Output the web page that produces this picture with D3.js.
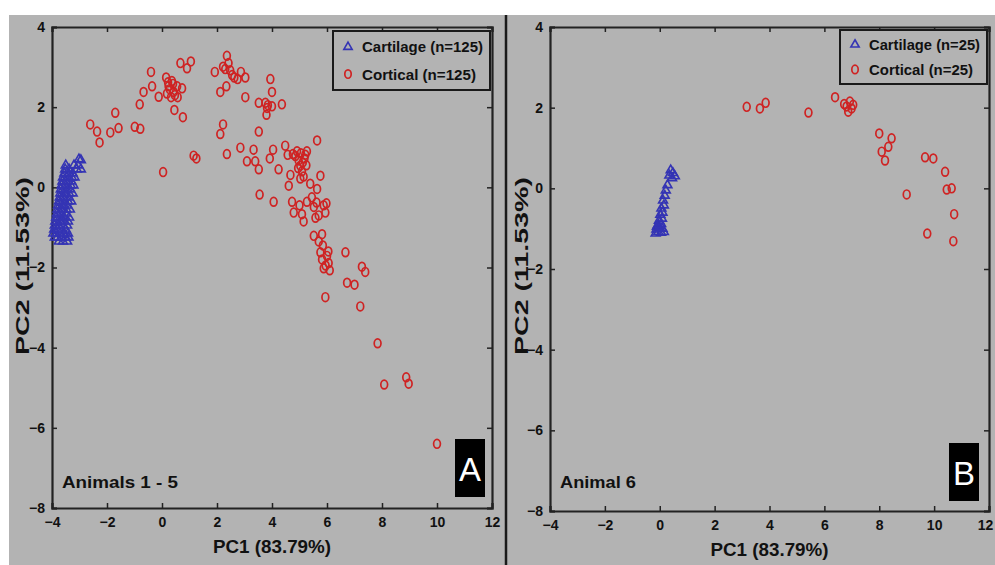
<!DOCTYPE html>
<html><head><meta charset="utf-8">
<script src="https://cdn.jsdelivr.net/npm/d3@7"></script>
<style>
html,body{margin:0;padding:0;background:#fff;}
svg{display:block;}
text{font-family:"Liberation Sans",Arial,sans-serif;}
</style></head>
<body><svg id="chart" width="995" height="565"></svg>
<script>
// ---------------- DATA ----------------
const xTicks = [-4,-2,0,2,4,6,8,10,12];
const yTicks = [4,2,0,-2,-4,-6,-8];
const xTitle = "PC1 (83.79%)";
const yTitle = "PC2 (11.53%)";
const seriesNames = ["Cartilage", "Cortical"];
const panelLabels = ["A", "B"];
const panelCaptions = ["Animals 1 - 5", "Animal 6"];
const legendA = ["Cartilage (n=125)", "Cortical (n=125)"];
const legendB = ["Cartilage (n=25)", "Cortical (n=25)"];

const cartilageA = [
 [-3.75,-1.35],[-3.6,-1.35],[-3.45,-1.35],
 [-3.9,-1.25],[-3.8,-1.25],[-3.65,-1.25],[-3.5,-1.25],[-3.4,-1.25],
 [-3.95,-1.15],[-3.85,-1.15],[-3.7,-1.15],[-3.55,-1.15],[-3.42,-1.15],
 [-3.92,-1.05],[-3.8,-1.05],[-3.68,-1.05],[-3.5,-1.05],
 [-3.9,-0.95],[-3.75,-0.95],[-3.6,-0.95],[-3.45,-0.95],
 [-3.88,-0.85],[-3.72,-0.85],[-3.58,-0.85],[-3.42,-0.85],
 [-3.85,-0.75],[-3.7,-0.75],[-3.55,-0.75],[-3.38,-0.75],
 [-3.82,-0.65],[-3.68,-0.65],[-3.5,-0.65],
 [-3.8,-0.55],[-3.65,-0.55],[-3.48,-0.55],[-3.35,-0.55],
 [-3.78,-0.45],[-3.62,-0.45],[-3.45,-0.45],
 [-3.75,-0.35],[-3.6,-0.35],[-3.42,-0.35],[-3.3,-0.35],
 [-3.72,-0.25],[-3.58,-0.25],[-3.4,-0.25],
 [-3.7,-0.15],[-3.55,-0.15],[-3.38,-0.15],[-3.25,-0.15],
 [-3.68,-0.05],[-3.52,-0.05],[-3.35,-0.05],
 [-3.65,0.05],[-3.5,0.05],[-3.32,0.05],[-3.22,0.05],
 [-3.62,0.15],[-3.48,0.15],[-3.3,0.15],
 [-3.6,0.25],[-3.45,0.25],[-3.28,0.25],[-3.18,0.25],
 [-3.55,0.35],[-3.4,0.35],[-3.25,0.35],
 [-3.52,0.45],[-3.38,0.45],[-3.1,0.45],[-2.95,0.45],
 [-3.5,0.55],[-3.2,0.55],[-3.05,0.55],
 [-3.02,0.7],[-2.95,0.68]
];

const corticalA = [
 [-2.61,1.57],[-2.36,1.39],[-2.27,1.12],[-1.70,1.86],[-1.88,1.37],[-1.58,1.48],
 [-0.99,1.51],[-0.79,1.46],[-0.81,2.07],[-0.67,2.38],[-0.40,2.88],[-0.36,2.52],
 [-0.12,2.26],[0.04,0.38],[0.15,2.74],[0.24,2.52],[0.36,2.65],[0.18,2.34],
 [0.42,2.38],[0.33,2.25],[0.55,2.52],[0.67,3.10],[0.73,2.47],[0.57,2.25],
 [0.45,1.93],[0.76,1.75],[0.91,2.97],[1.05,3.14],[1.15,0.79],[1.25,0.72],
 [0.28,2.45],[0.40,2.58],[0.22,2.62],[0.47,2.30],
 [1.92,2.88],[2.12,2.38],[2.22,3.01],[2.36,3.28],[2.42,3.10],[2.34,2.52],
 [2.48,2.92],[2.63,2.74],[2.75,2.70],[2.87,2.88],[3.03,2.74],[3.03,2.25],
 [2.30,2.95],[2.55,2.80],
 [2.22,1.57],[2.12,1.33],[2.36,0.83],[2.85,0.99],[3.09,0.65],[3.33,0.94],
 [3.39,0.65],[3.52,1.39],[3.52,0.45],[3.55,-0.18],[3.52,2.11],[3.76,2.11],
 [3.82,1.98],[3.80,1.81],[3.94,2.70],[4.00,2.38],[4.00,2.02],[3.92,0.72],
 [4.04,0.94],[4.06,-0.36],[4.36,2.07],[4.24,0.45],[3.85,2.05],
 [4.48,1.04],[4.57,0.81],[4.67,0.31],[4.61,0.04],[4.73,-0.36],[4.79,-0.63],
 [4.76,0.83],[4.91,0.90],[4.97,0.67],[5.03,0.54],[5.09,0.40],[5.15,0.27],
 [5.03,0.22],[5.21,0.81],[5.27,0.90],[5.18,0.72],[4.85,0.78],[5.12,0.62],
 [5.25,0.55],[5.05,0.85],[4.95,0.48],
 [5.00,-0.45],[5.09,-0.67],[5.15,-0.85],[5.27,-0.36],[5.39,0.09],[5.52,-0.49],
 [5.58,-0.76],[5.64,1.17],[5.64,-0.04],[5.76,0.29],[5.62,-0.38],[5.45,-0.25],
 [5.70,-0.70],
 [5.52,-1.21],[5.70,-1.35],[5.82,-1.17],[5.88,-0.45],[5.94,-0.63],[5.98,-0.40],
 [5.76,-1.62],[5.82,-1.80],[5.88,-2.02],[6.00,-1.71],[6.06,-1.89],[6.10,-2.07],
 [5.95,-1.95],[6.05,-1.60],[5.85,-1.45],
 [5.94,-2.74],[6.67,-1.62],[6.73,-2.38],[7.00,-2.43],[7.21,-2.97],[7.27,-1.98],
 [7.39,-2.11],[7.84,-3.89],[8.08,-4.92],[8.88,-4.74],[8.97,-4.90],[10.0,-6.40]
];

const cartilageB = [
 [0.40,0.45],[0.48,0.38],[0.55,0.30],[0.35,0.32],[0.45,0.25],
 [0.28,0.08],[0.22,-0.05],[0.18,-0.18],[0.12,-0.30],[0.15,-0.42],
 [0.06,-0.50],[0.10,-0.60],[0.02,-0.65],[0.08,-0.75],[-0.03,-0.80],
 [0.05,-0.88],[-0.08,-0.92],[0.00,-0.98],[-0.12,-1.02],[0.10,-1.00],
 [-0.05,-1.08],[0.05,-1.10],[-0.15,-1.12],[0.15,-1.08],[-0.10,-0.95]
];

const corticalB = [
 [3.17,2.02],[3.65,1.98],[3.86,2.12],[5.42,1.88],[6.39,2.26],
 [6.72,2.09],[6.93,2.15],[6.99,1.98],[6.87,1.90],[7.05,2.07],
 [6.81,2.03],[8.00,1.36],[8.45,1.24],[8.33,1.03],[8.09,0.91],
 [8.21,0.69],[9.67,0.77],[9.97,0.74],[10.40,0.41],[9.00,-0.15],
 [10.46,-0.03],[10.64,0.00],[10.73,-0.64],[9.75,-1.12],[10.70,-1.31]
];

// ---------------- DRAW ----------------
const svg = d3.select("#chart");
const GREY = "#b3b3b3", AX = "#222", BLUE = "#3434b4", RED = "#cf2323";

svg.append("rect").attr("x",9).attr("y",15).attr("width",986).attr("height",550).attr("fill",GREY);
svg.append("line").attr("x1",506).attr("x2",506).attr("y1",15).attr("y2",565)
  .attr("stroke","#1a1a1a").attr("stroke-width",2.5);

const panels = [
 {L:52,R:492,T:27,B:508, cart:cartilageA, cort:corticalA, legend:legendA, lx:333, ly:31, lw:157, lh:59, lab:panelLabels[0], cap:panelCaptions[0], bx:455, by:439, xTitleY:553, yTitleX:22},
 {L:550,R:989,T:27,B:511, cart:cartilageB, cort:corticalB, legend:legendB, lx:840, ly:30, lw:147, lh:54, lab:panelLabels[1], cap:panelCaptions[1], bx:949, by:443, xTitleY:556, yTitleX:521}
];

panels.forEach((p, pi) => {
  const x = d3.scaleLinear().domain([-4,12]).range([p.L,p.R]);
  const y = d3.scaleLinear().domain([-8,4]).range([p.B,p.T]);
  const g = svg.append("g");

  const fmt = d => d3.format("d")(d);
  const gb = g.append("g").attr("transform",`translate(0,${p.B})`)
    .call(d3.axisBottom(x).tickValues(xTicks).tickSize(-5).tickPadding(9).tickFormat(fmt));
  const gt = g.append("g").attr("transform",`translate(0,${p.T})`)
    .call(d3.axisTop(x).tickValues(xTicks).tickSize(-5).tickFormat(""));
  const gl = g.append("g").attr("transform",`translate(${p.L},0)`)
    .call(d3.axisLeft(y).tickValues(yTicks).tickSize(-5).tickPadding(7).tickFormat(fmt));
  const gr = g.append("g").attr("transform",`translate(${p.R},0)`)
    .call(d3.axisRight(y).tickValues(yTicks).tickSize(-5).tickFormat(""));
  [gb,gt,gl,gr].forEach(a => {
    a.select(".domain").attr("stroke",AX).attr("stroke-width",2.2);
    a.selectAll(".tick line").attr("stroke",AX).attr("stroke-width",1.5);
    a.selectAll(".tick text").attr("fill","#111").style("font-size","14px").style("font-weight","bold");
  });
  // keep the last x label inside the picture on the right panel
  if (pi === 1) gb.selectAll(".tick text").filter(d => d === 12).attr("dx", -4);

  // points
  g.append("g").selectAll("path").data(p.cart).join("path")
    .attr("transform",d=>`translate(${x(d[0])},${y(d[1])})`)
    .attr("d",d3.symbol(d3.symbolTriangle,34))
    .attr("fill","none").attr("stroke",BLUE).attr("stroke-width",1.6);
  g.append("g").selectAll("ellipse").data(p.cort).join("ellipse")
    .attr("cx",d=>x(d[0])).attr("cy",d=>y(d[1])).attr("rx",3.4).attr("ry",4.4)
    .attr("fill","none").attr("stroke",RED).attr("stroke-width",1.7);

  // legend
  const lg = g.append("g");
  lg.append("rect").attr("x",p.lx).attr("y",p.ly).attr("width",p.lw).attr("height",p.lh)
    .attr("fill",GREY).attr("stroke","#1a1a1a").attr("stroke-width",2);
  const r1 = p.ly + p.lh*0.27, r2 = p.ly + p.lh*0.73;
  lg.append("path").attr("transform",`translate(${p.lx+15},${r1})`)
    .attr("d",d3.symbol(d3.symbolTriangle,30)).attr("fill","none").attr("stroke",BLUE).attr("stroke-width",1.6);
  lg.append("ellipse").attr("cx",p.lx+15).attr("cy",r2).attr("rx",3.2).attr("ry",4.2)
    .attr("fill","none").attr("stroke",RED).attr("stroke-width",1.7);
  [[p.legend[0],r1],[p.legend[1],r2]].forEach(([t,yy],i) => {
    lg.append("text").attr("x",p.lx+29).attr("y",yy+5.5).text(t)
      .attr("fill","#111").style("font-size","15px").style("font-weight","bold")
      .attr("textLength", p.lw - 36 - (i===1?7:0)).attr("lengthAdjust","spacingAndGlyphs");
  });

  // caption and panel letter
  g.append("text").attr("x",p.L+10).attr("y",488).text(p.cap)
    .attr("fill","#111").style("font-size","17px").style("font-weight","bold")
    .attr("textLength", p.cap.length>10?116:76).attr("lengthAdjust","spacingAndGlyphs");
  g.append("rect").attr("x",p.bx).attr("y",p.by).attr("width",30).attr("height",58).attr("fill","#000");
  g.append("text").attr("x",p.bx+15).attr("y",p.by+42).attr("text-anchor","middle").text(p.lab)
    .attr("fill","#fff").style("font-size","34px").style("font-weight","normal")
    .attr("textLength",22).attr("lengthAdjust","spacingAndGlyphs");

  // titles
  g.append("text").attr("x",(p.L+p.R)/2).attr("y",p.xTitleY).attr("text-anchor","middle").text(xTitle)
    .attr("fill","#111").style("font-size","18px").style("font-weight","bold")
    .attr("textLength",118).attr("lengthAdjust","spacingAndGlyphs");
  g.append("text").attr("transform",`translate(${p.yTitleX},${266}) rotate(-90)`).attr("text-anchor","middle")
    .attr("dy","0.35em").text(yTitle)
    .attr("fill","#111").style("font-size","19px").style("font-weight","bold")
    .attr("textLength",178).attr("lengthAdjust","spacingAndGlyphs");
});
</script>
</body></html>
